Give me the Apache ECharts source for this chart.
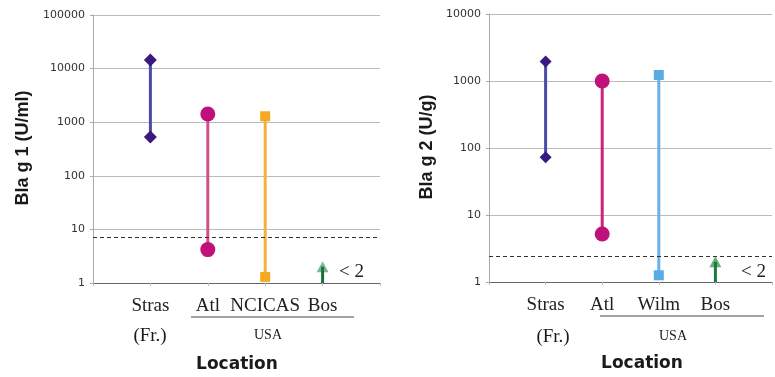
<!DOCTYPE html>
<html><head><meta charset="utf-8">
<script src="https://cdn.jsdelivr.net/npm/echarts@6/dist/echarts.min.js"></script>
<style>html,body{margin:0;padding:0;background:#fff}#c{width:775px;height:377px}</style>
</head><body><div id="c"></div>
<script>
// Left panel: Bla g 1 (U/ml)
const leftCats = ['', 'Stras', 'Atl', 'NCICAS', 'Bos', ''];
const leftStras = [530, 14400];
const leftAtl = [4.2, 1420];
const leftNcicas = [1.3, 1290];
const leftBos = [1, 2];
const leftThreshold = 7.2;
const leftYTicks = [1, 10, 100, 1000, 10000, 100000];

// Right panel: Bla g 2 (U/g)
const rightCats = ['', 'Stras', 'Atl', 'Wilm', 'Bos', ''];
const rightStras = [73, 1950];
const rightAtl = [5.2, 1000];
const rightWilm = [1.26, 1230];
const rightBos = [1, 2];
const rightThreshold = 2.42;
const rightYTicks = [1, 10, 100, 1000, 10000];

const serif = 'Liberation Serif';

function xAxis(idx, cats) {
  return {
    type: 'category', gridIndex: idx, data: cats, boundaryGap: false,
    axisLine: { lineStyle: { color: '#666', width: 1 } },
    axisTick: { show: true, length: 3, lineStyle: { color: '#bbb' }, interval: 0 },
    axisLabel: { interval: 0, fontFamily: serif, fontSize: 19, color: '#222', margin: 14 },
    splitLine: { show: false }
  };
}
function yAxis(idx, ticks) {
  return {
    type: 'log', logBase: 10, gridIndex: idx, min: ticks[0], max: ticks[ticks.length - 1],
    axisLine: { show: true, lineStyle: { color: '#aaa' } },
    axisTick: { show: true, length: 3, lineStyle: { color: '#aaa' } },
    axisLabel: { fontFamily: 'DejaVu Sans', fontSize: 11, color: '#333', margin: 8,
      formatter: v => String(Math.round(v)) },
    splitLine: { show: true, lineStyle: { color: '#bbb', width: 1 } },
    minorTick: { show: false }
  };
}
function seg(xi, yi, cat, vals, color, lineColor, symbol, size) {
  return {
    type: 'line', xAxisIndex: xi, yAxisIndex: yi,
    data: vals.map(v => [cat, v]),
    symbol: symbol, symbolSize: size, showSymbol: true,
    lineStyle: { color: lineColor, width: 3 },
    itemStyle: { color: color }, animation: false
  };
}
function arrow(xi, yi, cat, vals, stem, head) {
  return [{
    type: 'line', xAxisIndex: xi, yAxisIndex: yi,
    data: vals.map(v => [cat, v]), symbol: 'none',
    lineStyle: { color: stem, width: 3 }, animation: false
  }, {
    type: 'scatter', xAxisIndex: xi, yAxisIndex: yi,
    data: [[cat, vals[1]]], symbol: 'triangle', symbolSize: [12, 11],
    itemStyle: { color: head }, animation: false
  }];
}
function threshold(xi, yi, v) {
  return {
    type: 'line', xAxisIndex: xi, yAxisIndex: yi, data: [],
    markLine: {
      symbol: 'none', silent: true, label: { show: false },
      lineStyle: { color: '#333', type: [4, 3], width: 1 },
      data: [{ yAxis: v }]
    }, animation: false
  };
}
function txt(x, y, text, font, rot) {
  return { type: 'text', x: x, y: y, rotation: rot || 0,
    style: { text: text, font: font, fill: '#1a1a1a', textAlign: 'center', textVerticalAlign: 'middle' } };
}

const chart = echarts.init(document.getElementById('c'), null, { renderer: 'canvas' });
chart.setOption({
  animation: false,
  grid: [
    { left: 93, top: 15, width: 287, height: 268 },
    { left: 489, top: 14, width: 297, height: 268 }
  ],
  xAxis: [xAxis(0, leftCats), xAxis(1, rightCats)],
  yAxis: [yAxis(0, leftYTicks), yAxis(1, rightYTicks)],
  series: [
    threshold(0, 0, leftThreshold),
    seg(0, 0, 'Stras', leftStras, '#3a1a80', '#4a4aa8', 'diamond', 13),
    seg(0, 0, 'Atl', leftAtl, '#c0107a', '#d0508a', 'circle', 15),
    seg(0, 0, 'NCICAS', leftNcicas, '#f5a820', '#f5b040', 'rect', 10),
    ...arrow(0, 0, 'Bos', leftBos, '#1e6e3c', '#5aa87c'),
    threshold(1, 1, rightThreshold),
    seg(1, 1, 'Stras', rightStras, '#3a1a80', '#4a4aa8', 'diamond', 12),
    seg(1, 1, 'Atl', rightAtl, '#c0107a', '#d0207a', 'circle', 15),
    seg(1, 1, 'Wilm', rightWilm, '#5aaae6', '#6ab0e6', 'rect', 10),
    ...arrow(1, 1, 'Bos', rightBos, '#1e7a3c', '#3c9a5c')
  ],
  graphic: [
    txt(23, 148, 'Bla g 1 (U/ml)', 'bold 18px "Liberation Sans"', Math.PI / 2),
    txt(427, 147, 'Bla g 2 (U/g)', 'bold 18px "Liberation Sans"', Math.PI / 2),
    txt(237, 365, 'Location', 'bold 17px "DejaVu Sans"'),
    txt(642, 364, 'Location', 'bold 17px "DejaVu Sans"'),
    txt(150, 336, '(Fr.)', '19px "Liberation Serif"'),
    txt(553, 337, '(Fr.)', '19px "Liberation Serif"'),
    txt(268, 335, 'USA', '14px "Liberation Serif"'),
    txt(673, 336, 'USA', '14px "Liberation Serif"'),
    { type: 'line', shape: { x1: 191, y1: 317, x2: 354, y2: 317 }, style: { stroke: '#444', lineWidth: 1 } },
    { type: 'line', shape: { x1: 600, y1: 316, x2: 764, y2: 316 }, style: { stroke: '#444', lineWidth: 1 } },
    { type: 'text', x: 339, y: 272, style: { text: '< 2', font: '19px "Liberation Serif"', fill: '#222', textAlign: 'left', textVerticalAlign: 'middle' } },
    { type: 'text', x: 741, y: 272, style: { text: '< 2', font: '19px "Liberation Serif"', fill: '#222', textAlign: 'left', textVerticalAlign: 'middle' } }
  ]
});
</script></body></html>
